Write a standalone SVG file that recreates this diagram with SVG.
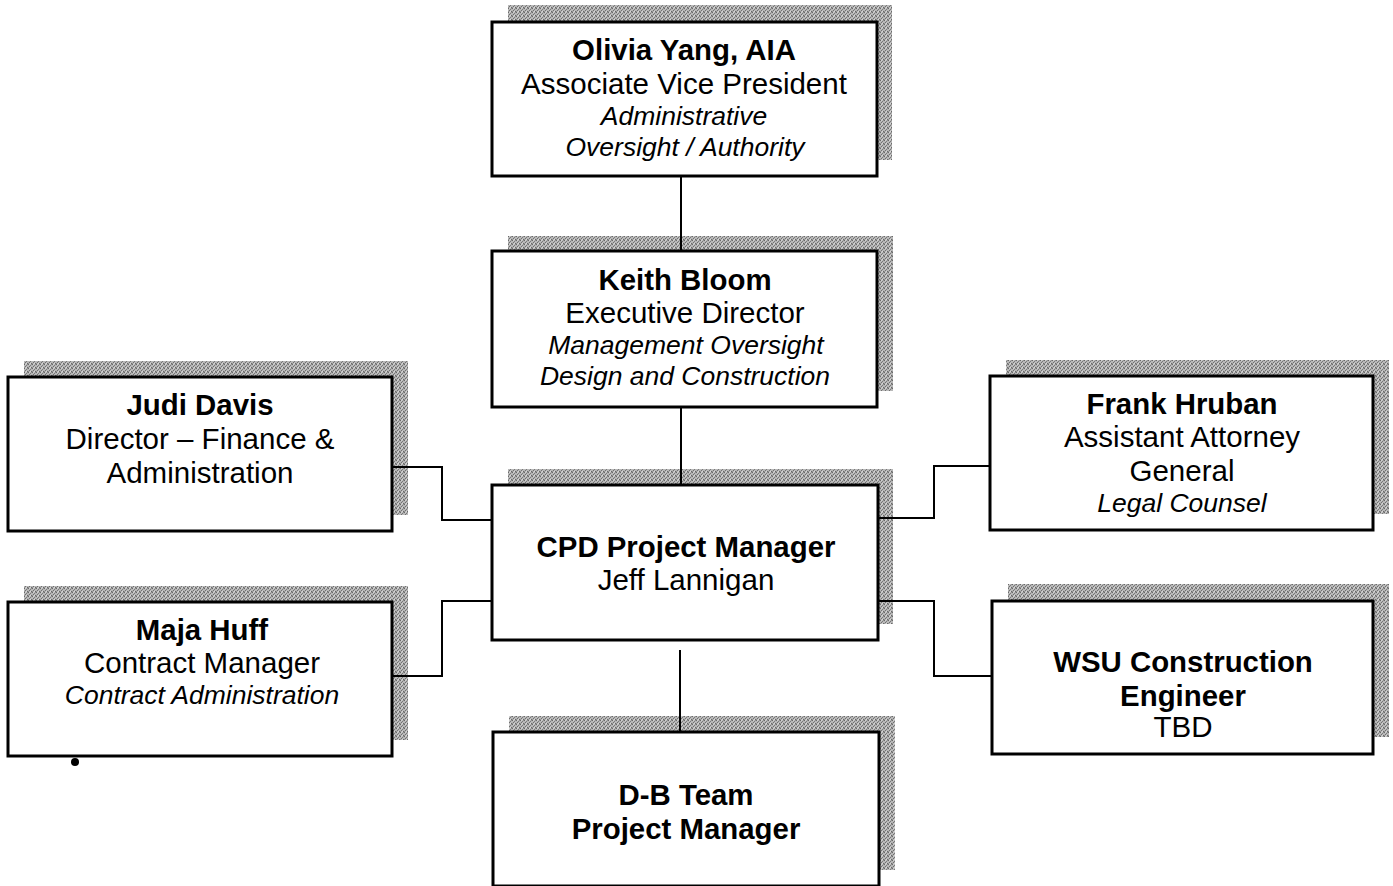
<svg xmlns="http://www.w3.org/2000/svg" width="1393" height="886" viewBox="0 0 1393 886">
<defs>
<pattern id="stip" width="4" height="4" patternUnits="userSpaceOnUse">
<rect width="4" height="4" fill="#b8b8b8"/>
<rect x="0" y="0" width="1" height="1" fill="#6a6a6a"/>
<rect x="2" y="1" width="1" height="1" fill="#7a7a7a"/>
<rect x="1" y="2" width="1" height="1" fill="#707070"/>
<rect x="3" y="3" width="1" height="1" fill="#6a6a6a"/>
<rect x="3" y="0" width="1" height="1" fill="#909090"/>
<rect x="0" y="3" width="1" height="1" fill="#949494"/>
<rect x="2" y="3" width="1" height="1" fill="#d8d8d8"/>
<rect x="1" y="0" width="1" height="1" fill="#d0d0d0"/>
</pattern>
</defs>
<style>
.sh{fill:url(#stip)}
.bx{fill:#fff;stroke:#000;stroke-width:3}
.ln{fill:none;stroke:#000;stroke-width:2}
text{font-family:"Liberation Sans",Arial,sans-serif;text-anchor:middle;fill:#000}
.b{font-weight:bold;font-size:29.4px}
.r{font-size:29.5px}
.i{font-style:italic;font-size:26.5px}
</style>
<rect width="1393" height="886" fill="#fff"/>
<g id="shadows">
<rect class="sh" x="508" y="5" width="384" height="155"/>
<rect class="sh" x="508" y="236" width="385" height="155"/>
<rect class="sh" x="24" y="361" width="384" height="154"/>
<rect class="sh" x="508" y="469" width="385" height="155"/>
<rect class="sh" x="24" y="586" width="384" height="154"/>
<rect class="sh" x="1006" y="360" width="383" height="154"/>
<rect class="sh" x="1008" y="584" width="381" height="153"/>
<rect class="sh" x="509" y="716" width="386" height="154"/>
</g>
<g id="connectors">
<path class="ln" d="M681 176V251"/>
<path class="ln" d="M681 407V485"/>
<path class="ln" d="M392 467H442V520H493"/>
<path class="ln" d="M392 676H442V601H493"/>
<path class="ln" d="M877 518H934V466H990"/>
<path class="ln" d="M877 601H934V676H992"/>
<path class="ln" d="M680 650V732"/>
</g>
<g id="olivia">
<rect class="bx" x="492" y="22" width="385" height="154"/>
<text class="b" x="684" y="60">Olivia Yang, AIA</text>
<text class="r" x="684" y="94">Associate Vice President</text>
<text class="i" x="684" y="125">Administrative</text>
<text class="i" x="685" y="156">Oversight / Authority</text>
</g>
<g id="keith">
<rect class="bx" x="492" y="251" width="385" height="156"/>
<text class="b" x="685" y="290">Keith Bloom</text>
<text class="r" x="685" y="323">Executive Director</text>
<text class="i" x="686" y="354">Management Oversight</text>
<text class="i" x="685" y="385">Design and Construction</text>
</g>
<g id="judi">
<rect class="bx" x="8" y="377" width="384" height="154"/>
<text class="b" x="200" y="415">Judi Davis</text>
<text class="r" x="200" y="449">Director – Finance &amp;</text>
<text class="r" x="200" y="483">Administration</text>
</g>
<g id="cpd">
<rect class="bx" x="492" y="485" width="386" height="155"/>
<text class="b" x="686" y="557">CPD Project Manager</text>
<text class="r" x="686" y="590">Jeff Lannigan</text>
</g>
<g id="maja">
<rect class="bx" x="8" y="602" width="384" height="154"/>
<text class="b" x="202" y="640">Maja Huff</text>
<text class="r" x="202" y="673">Contract Manager</text>
<text class="i" x="202" y="704">Contract Administration</text>
<circle cx="75" cy="762" r="4" fill="#000"/>
</g>
<g id="frank">
<rect class="bx" x="990" y="376" width="383" height="154"/>
<text class="b" x="1182" y="414">Frank Hruban</text>
<text class="r" x="1182" y="447">Assistant Attorney</text>
<text class="r" x="1182" y="481">General</text>
<text class="i" x="1182" y="512">Legal Counsel</text>
</g>
<g id="wsu">
<rect class="bx" x="992" y="601" width="381" height="153"/>
<text class="b" x="1183" y="672">WSU Construction</text>
<text class="b" x="1183" y="706">Engineer</text>
<text class="r" x="1183" y="737">TBD</text>
</g>
<g id="db">
<rect class="bx" x="493" y="732" width="386" height="154"/>
<text class="b" x="686" y="805">D-B Team</text>
<text class="b" x="686" y="839">Project Manager</text>
</g>
</svg>
